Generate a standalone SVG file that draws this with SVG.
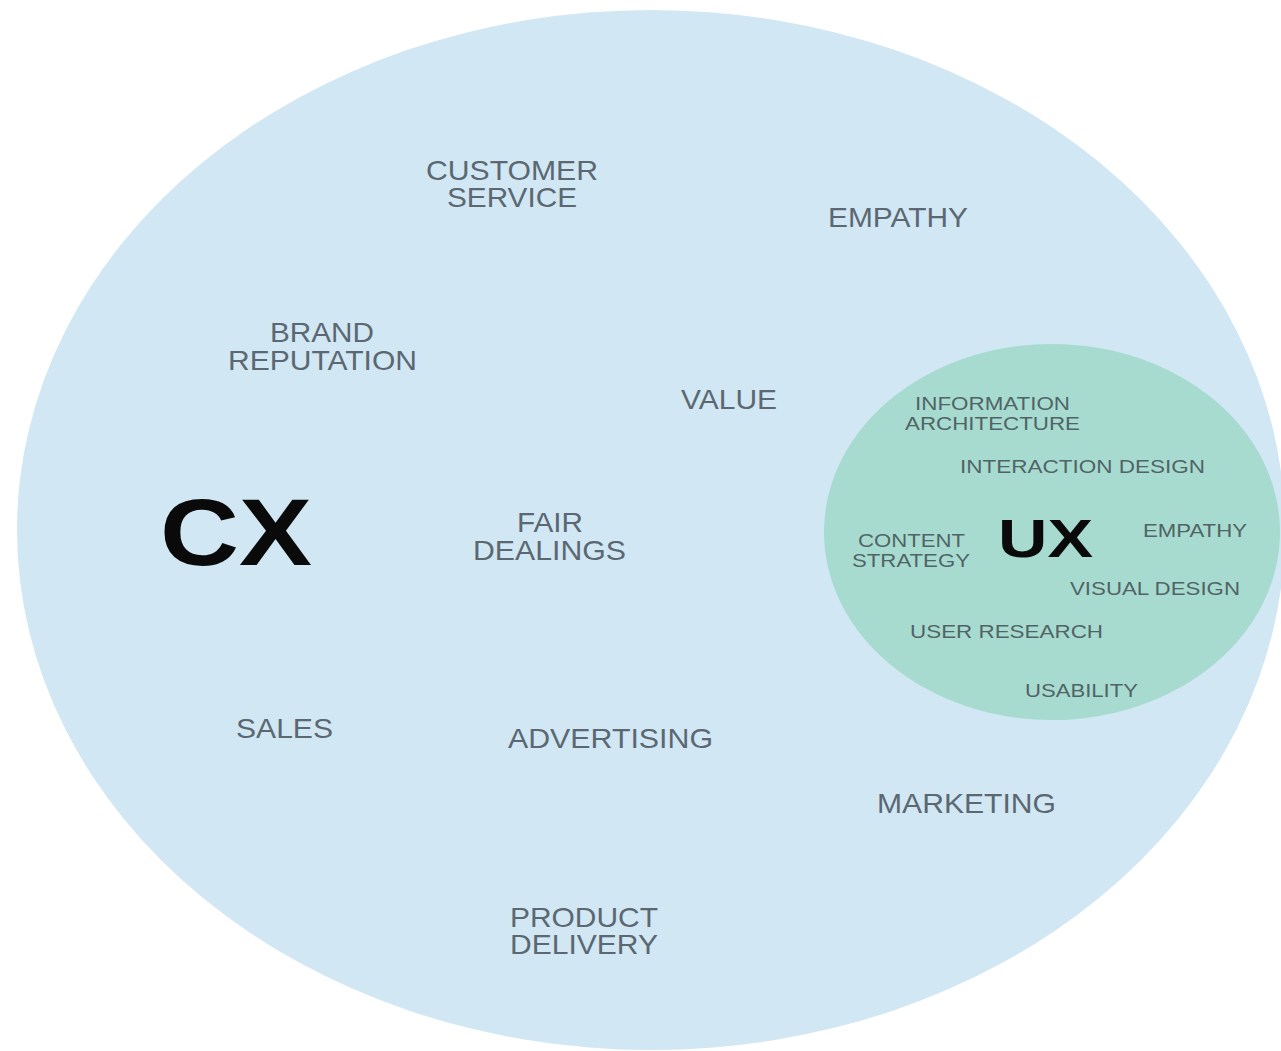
<svg xmlns="http://www.w3.org/2000/svg" width="1281" height="1051" viewBox="0 0 1281 1051">
<style>
.t{font-family:"Liberation Sans",Arial,sans-serif;fill:#5b6872;font-size:28px}
.s{font-family:"Liberation Sans",Arial,sans-serif;fill:#506466;font-size:18px}
.b{font-family:"Liberation Sans",Arial,sans-serif;fill:#0a0a0a;font-weight:bold}
</style>
<rect width="1281" height="1051" fill="#ffffff"/>
<g id="cx">
<ellipse cx="651" cy="530" rx="634" ry="520" fill="#d1e7f4"/>
<text class="b" x="160" y="565" font-size="94" textLength="152" lengthAdjust="spacingAndGlyphs">CX</text>
<text class="t" x="426" y="180" textLength="172" lengthAdjust="spacingAndGlyphs">CUSTOMER</text>
<text class="t" x="447" y="207" textLength="130" lengthAdjust="spacingAndGlyphs">SERVICE</text>
<text class="t" x="828" y="227" textLength="140" lengthAdjust="spacingAndGlyphs">EMPATHY</text>
<text class="t" x="270" y="342" textLength="104" lengthAdjust="spacingAndGlyphs">BRAND</text>
<text class="t" x="228" y="370" textLength="189" lengthAdjust="spacingAndGlyphs">REPUTATION</text>
<text class="t" x="681" y="409" textLength="96" lengthAdjust="spacingAndGlyphs">VALUE</text>
<text class="t" x="517" y="532" textLength="66" lengthAdjust="spacingAndGlyphs">FAIR</text>
<text class="t" x="473" y="560" textLength="153" lengthAdjust="spacingAndGlyphs">DEALINGS</text>
<text class="t" x="236" y="738" textLength="97" lengthAdjust="spacingAndGlyphs">SALES</text>
<text class="t" x="508" y="748" textLength="205" lengthAdjust="spacingAndGlyphs">ADVERTISING</text>
<text class="t" x="877" y="813" textLength="179" lengthAdjust="spacingAndGlyphs">MARKETING</text>
<text class="t" x="510" y="927" textLength="148" lengthAdjust="spacingAndGlyphs">PRODUCT</text>
<text class="t" x="510" y="954" textLength="148" lengthAdjust="spacingAndGlyphs">DELIVERY</text>
</g>
<g id="ux">
<ellipse cx="1052" cy="532" rx="228" ry="188" fill="#a8dbd0"/>
<text class="b" x="998" y="557" font-size="54" textLength="95" lengthAdjust="spacingAndGlyphs">UX</text>
<text class="s" x="915" y="410" textLength="155" lengthAdjust="spacingAndGlyphs">INFORMATION</text>
<text class="s" x="905" y="430" textLength="175" lengthAdjust="spacingAndGlyphs">ARCHITECTURE</text>
<text class="s" x="960" y="473" textLength="245" lengthAdjust="spacingAndGlyphs">INTERACTION DESIGN</text>
<text class="s" x="1143" y="537" textLength="104" lengthAdjust="spacingAndGlyphs">EMPATHY</text>
<text class="s" x="858" y="547" textLength="107" lengthAdjust="spacingAndGlyphs">CONTENT</text>
<text class="s" x="852" y="567" textLength="118" lengthAdjust="spacingAndGlyphs">STRATEGY</text>
<text class="s" x="1070" y="595" textLength="170" lengthAdjust="spacingAndGlyphs">VISUAL DESIGN</text>
<text class="s" x="910" y="638" textLength="193" lengthAdjust="spacingAndGlyphs">USER RESEARCH</text>
<text class="s" x="1025" y="697" textLength="113" lengthAdjust="spacingAndGlyphs">USABILITY</text>
</g>
<g id="connectors"></g>
</svg>
